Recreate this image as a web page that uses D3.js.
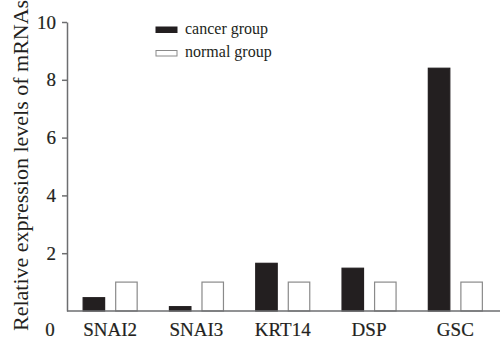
<!DOCTYPE html>
<html>
<head>
<meta charset="utf-8">
<script src="https://d3js.org/d3.v7.min.js"></script>
<style>
  body { margin: 0; background: #fff; }
  text { font-family: "Liberation Serif", "Times New Roman", serif; fill: #231f20; }
  .heavy { stroke: #231f20; stroke-width: 0.2px; }
  .axis path, .axis line { stroke: #6d6e70; stroke-width: 1.5px; }
</style>
</head>
<body>
<script>
// data
var genes = ["SNAI2", "SNAI3", "KRT14", "DSP", "GSC"];
var groups = ["cancer group", "normal group"];
var cancer = [0.46, 0.15, 1.65, 1.48, 8.4];
var normal = [1.0, 1.0, 1.0, 1.0, 1.0];
var yTicks = [2, 4, 6, 8, 10];

var width = 500, height = 339;
var plotLeft = 67, plotRight = 498.5, plotTop = 22, plotBottom = 311;

var svg = d3.select("body").append("svg")
    .attr("width", width)
    .attr("height", height);

var x0 = d3.scaleBand().domain(genes).range([plotLeft, plotRight])
    .paddingInner(0.374).paddingOuter(0.187);
var x1 = d3.scaleBand().domain(groups).range([0, x0.bandwidth()]).paddingInner(0.34);
var y = d3.scaleLinear().domain([0, 10]).range([plotBottom, plotTop]);

var color = { "cancer group": "#231f20", "normal group": "#fff" };
var rows = genes.map(function (g, i) {
    return { gene: g, values: [
        { group: groups[0], v: cancer[i] },
        { group: groups[1], v: normal[i] }
    ]};
});

// bars
var gg = svg.selectAll(".gene").data(rows).enter().append("g")
    .attr("transform", function (d) { return "translate(" + x0(d.gene) + ",0)"; });
gg.selectAll("rect").data(function (d) { return d.values; }).enter().append("rect")
    .attr("x", function (d) { return x1(d.group); })
    .attr("y", function (d) { return y(d.v); })
    .attr("width", x1.bandwidth())
    .attr("height", function (d) { return y(0) - y(d.v); })
    .attr("fill", function (d) { return color[d.group]; })
    .attr("stroke", function (d) { return d.group == groups[0] ? "#231f20" : "#8a8a8a"; })
    .attr("stroke-width", 1.2);

// y axis
var ya = svg.append("g").attr("class", "axis")
    .attr("transform", "translate(" + plotLeft + ",0)")
    .call(d3.axisLeft(y).tickValues(yTicks).tickSize(5).tickPadding(6).tickSizeOuter(0));
ya.attr("font-family", null);
ya.selectAll("text").attr("class", "heavy").style("font-size", "19px").attr("fill", "#231f20");

// x axis line
svg.append("line")
    .attr("x1", plotLeft).attr("x2", width)
    .attr("y1", y(0)).attr("y2", y(0))
    .attr("stroke", "#6d6e70").attr("stroke-width", 1.5);

// zero label sits below the axis
svg.append("text")
    .attr("class", "heavy")
    .attr("x", 50).attr("y", y(0) + 25)
    .attr("text-anchor", "middle")
    .style("font-size", "19px")
    .text("0");

// category labels
svg.selectAll(".cat").data(genes).enter().append("text")
    .attr("class", "heavy")
    .attr("x", function (d) { return x0(d) + x0.bandwidth() / 2; })
    .attr("y", y(0) + 25)
    .attr("text-anchor", "middle")
    .style("font-size", "19px")
    .text(function (d) { return d; });

// y title
svg.append("text")
    .attr("transform", "translate(28," + (plotBottom + 20) + ") rotate(-90)")
    .style("font-size", "22px")
    .text("Relative expression levels of mRNAs");

// legend
var leg = svg.selectAll(".leg").data(groups).enter().append("g")
    .attr("transform", function (d, i) { return "translate(156," + (27 + i * 23.5) + ")"; });
leg.append("rect")
    .attr("width", 21).attr("height", 5.5)
    .attr("fill", function (d) { return color[d]; })
    .attr("stroke", function (d, i) { return i == 0 ? "#231f20" : "#8a8a8a"; })
    .attr("stroke-width", 1);
leg.append("text")
    .attr("x", 29).attr("y", 6.5)
    .style("font-size", "16px")
    .text(function (d) { return d; });
</script>
</body>
</html>
